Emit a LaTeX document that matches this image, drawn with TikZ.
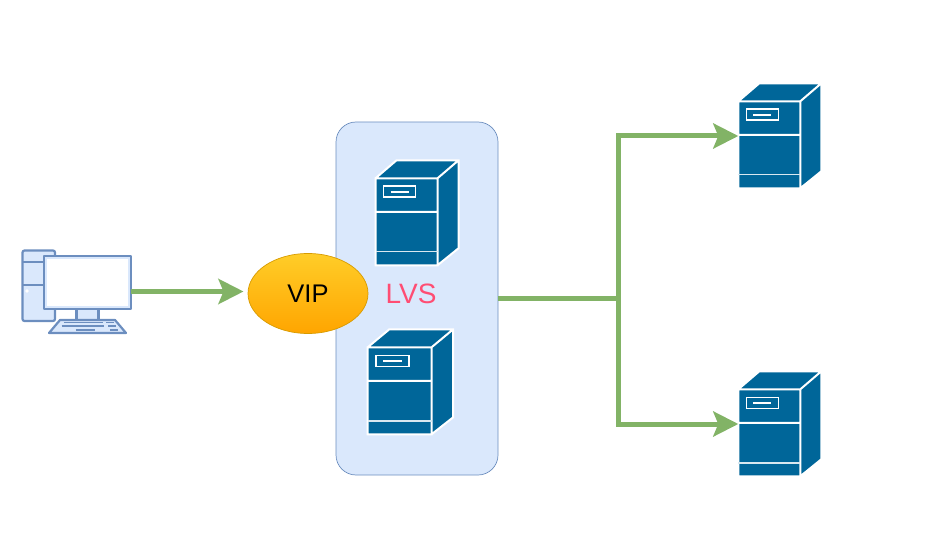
\documentclass[tikz,border=0pt]{standalone}
\usepackage{fontspec}
\setmainfont{Liberation Sans}
\usetikzlibrary{arrows.meta,positioning,shapes.geometric,shadings}
\definecolor{FlowGreen}{RGB}{130,179,102}
\definecolor{BoxFill}{RGB}{218,232,252}
\definecolor{BoxLine}{RGB}{108,142,191}
\definecolor{ServerBlue}{RGB}{0,102,153}
\definecolor{VipTop}{RGB}{255,205,40}
\definecolor{VipBottom}{RGB}{255,165,0}
\definecolor{VipLine}{RGB}{215,155,0}
\definecolor{LvsRed}{RGB}{255,77,115}
\tikzset{
  flow/.style={draw=FlowGreen, line width=5pt},
  flowarrow/.style={flow, -{Stealth[length=25pt,width=25pt,inset=5pt]}},
  server/.pic={
    \fill[ServerBlue] (0,0) -- (21,-18) -- (83,-18) -- (83,70) -- (62,87) -- (0,87) -- cycle;
    \draw[white, line width=2pt, line join=miter]
      (0,0) rectangle (62,87)
      (0,0) -- (21,-18) -- (83,-18) -- (83,70) -- (62,87)
      (62,0) -- (83,-18)
      (0,33.5) -- (62,33.5);
    \draw[white!85!ServerBlue, line width=1.4pt] (0,73.5) -- (62,73.5);
    \draw[white, line width=1.6pt] (8,8) rectangle (40,19);
    \draw[white, line width=1.4pt] (15,13.7) -- (33,13.7);
  }
}
\begin{document}
\begin{tikzpicture}[x=1pt,y=-1pt]
    \useasboundingbox (0,0) rectangle (939,553);
    % load balancer group
    \node[draw=BoxLine, fill=BoxFill, rounded corners=20pt, minimum width=162pt, minimum height=353pt, line width=0.7pt] (lvs) at (417,298.5) {};
    \pic at (375.5,178.3) {server};
    \pic[xscale=1.03] at (367.7,347.3) {server};
    \node[font=\fontsize{28}{28}\selectfont, text=LvsRed] (lvslabel) at (411,294) {LVS};
    \node[ellipse, draw=VipLine, top color=VipTop, bottom color=VipBottom, minimum width=120pt, minimum height=80pt, inner sep=0pt, line width=0.7pt, font=\fontsize{25.5}{26}\selectfont] (vip) at (308,293.5) {VIP};
    % client desktop
    \node[minimum width=109pt, minimum height=83pt, inner sep=0pt] (pc) at (76.5,291.5) {};
    \begin{scope}[draw=BoxLine, line width=2.2pt, line join=round]
      \filldraw[fill=BoxFill, rounded corners=2pt] (22.5,250.5) rectangle (55,321);
      \draw (22.5,262) -- (44,262) (22.5,285) -- (44,285);
      \fill[white] (27,291) circle (1.8pt);
      \filldraw[fill=BoxFill] (76.5,309) rectangle (98.5,320);
      \filldraw[fill=BoxFill] (60,320) -- (115,320) -- (126,333) -- (49,333) -- cycle;
      \filldraw[fill=BoxFill] (44,256) rectangle (131,309);
      \fill[white] (47,259) rectangle (128,306);
      \draw[line width=1.5pt] (63.5,322.7) -- (103,322.7) (106,322.7) -- (114,322.7)
        (61.7,326) -- (104,326) (108,326) -- (116,326)
        (75.7,330) -- (95,330) (110,330) -- (118,330);
    \end{scope}
    % backend servers
    \foreach \name/\top/\mid in {srvA/101.3/136,srvB/389.3/424} {
      \pic at (738.3,\top) {server};
      \coordinate (\name) at (738.3,\mid);
    }
    \coordinate (vipin) at (243.5,291.5);
    \coordinate (fork) at (618,298);
    % connectors
    \draw[flowarrow] (pc.east) -- (vipin);
    \draw[flow] (lvs.east |- fork) -- (fork);
    \draw[flowarrow] (fork) |- (srvA);
    \draw[flowarrow] (fork) |- (srvB);
  \end{tikzpicture}
\end{document}
